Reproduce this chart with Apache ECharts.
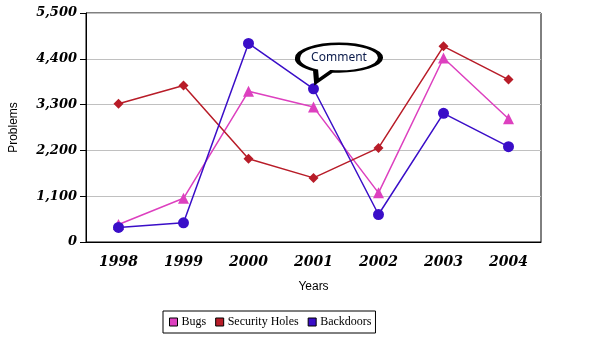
<!DOCTYPE html>
<html><head><meta charset="utf-8">
<script src="https://cdn.jsdelivr.net/npm/echarts@6/dist/echarts.min.js"></script>
<style>html,body{margin:0;padding:0;background:#fff}#c{width:589px;height:362px}</style>
</head><body><div id="c"></div>
<script>
var years = ['1998','1999','2000','2001','2002','2003','2004'];
var bugs = [420, 1050, 3620, 3240, 1180, 4420, 2960];
var securityHoles = [3320, 3760, 2000, 1540, 2260, 4700, 3900];
var backdoors = [350, 460, 4770, 3680, 660, 3090, 2290];
var yTicks = [0, 1100, 2200, 3300, 4400, 5500];
var commentAt = ['2001', 3680];

var chart = echarts.init(document.getElementById('c'), null, {renderer:'canvas'});
var bubblePath = 'path://M0,14 A41.5,14 0 1,1 83,14 A41.5,14 0 0,1 34,27.5 L19,38 L18,26.5 A41.5,14 0 0,1 0,14 Z';
chart.setOption({
  animation:false,
  grid:{left:84,right:48,top:13,bottom:120,show:true,borderColor:'#000',borderWidth:1,backgroundColor:'transparent'},
  legend:{
    left:163, top:311, orient:'horizontal', icon:'rect', itemWidth:8, itemHeight:8, itemGap:9,
    borderColor:'#000', borderWidth:1, padding:[5,4,5,6],
    textStyle:{fontFamily:'Liberation Serif',fontSize:12,color:'#000',padding:[0,0,0,-1]},
    itemStyle:{borderColor:'#000',borderWidth:1},
    data:['Bugs','Security Holes','Backdoors']
  },
  xAxis:{
    type:'category', data:years, boundaryGap:true,
    name:'Years', nameLocation:'middle', nameGap:39,
    nameTextStyle:{fontFamily:'Liberation Sans',fontSize:12,color:'#000'},
    axisLine:{lineStyle:{color:'#000',width:1}},
    axisTick:{alignWithLabel:true,length:4,lineStyle:{color:'#000'}},
    axisLabel:{margin:13,fontFamily:'DejaVu Serif',fontStyle:'italic',fontWeight:'bold',fontSize:14,color:'#000'},
    splitLine:{show:false}
  },
  yAxis:{
    type:'value', min:yTicks[0], max:yTicks[yTicks.length-1], interval:yTicks[1]-yTicks[0],
    name:'Problems', nameLocation:'middle', nameGap:66, nameRotate:90,
    nameTextStyle:{fontFamily:'Liberation Sans',fontSize:12,color:'#000'},
    axisLine:{show:true,lineStyle:{color:'#000',width:1}},
    axisTick:{show:true,length:6,lineStyle:{color:'#000'}},
    axisLabel:{margin:9,fontFamily:'DejaVu Serif',fontStyle:'italic',fontWeight:'bold',fontSize:13,color:'#000',
      formatter:function(v){return v.toLocaleString('en-US');}},
    splitLine:{show:true,lineStyle:{color:'#c0c0c0',width:1}}
  },
  series:[
    {name:'Bugs',type:'line',data:bugs,symbol:'triangle',symbolSize:11,
     itemStyle:{color:'#dd40bf'},lineStyle:{color:'#dd40bf',width:1.5}},
    {name:'Security Holes',type:'line',data:securityHoles,symbol:'diamond',symbolSize:10,
     itemStyle:{color:'#b81c28'},lineStyle:{color:'#b81c28',width:1.5}},
    {name:'Backdoors',type:'line',data:backdoors,symbol:'circle',symbolSize:11,
     itemStyle:{color:'#3a0ec8'},lineStyle:{color:'#3a0ec8',width:1.5},
     markPoint:{
       silent:true,
       data:[{coord:commentAt,value:'Comment'}],
       symbol:bubblePath, symbolSize:[83,38], symbolOffset:[25.5,-26], symbolKeepAspect:false,
       itemStyle:{color:'#fff',borderColor:'#000',borderWidth:3.5},
       label:{show:true,position:'inside',offset:[0,-5],formatter:'Comment',
         fontFamily:'Noto Sans',fontSize:12,color:'#0a1a4a'}
     }}
  ]
});
</script></body></html>
